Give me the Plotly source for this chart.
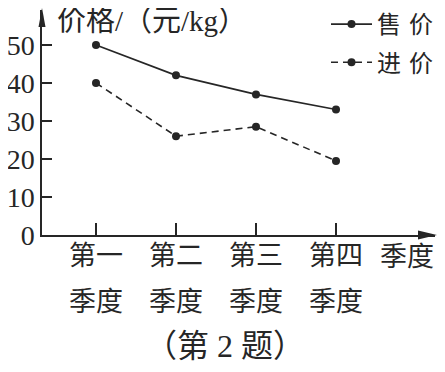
import plotly.graph_objects as go

quarters = [1, 2, 3, 4]
quarter_labels = ["第一", "第二", "第三", "第四"]
quarter_suffix = ["季度", "季度", "季度", "季度"]
sale_price = [50, 42, 37, 33]
cost_price = [40, 26, 28.5, 19.5]
y_ticks = [0, 10, 20, 30, 40, 50]

INK = "#262626"
CJK = "Noto Sans CJK SC"
SERIF = "Liberation Serif"

fig = go.Figure()
fig.add_trace(go.Scatter(
    x=quarters, y=sale_price, name="售\u2004价", mode="lines+markers",
    legendgroup="sale",
    line=dict(color=INK, width=1.6),
    marker=dict(color=INK, size=8),
))
fig.add_trace(go.Scatter(
    x=quarters, y=cost_price, name="进\u2004价", mode="lines+markers",
    legendgroup="cost",
    line=dict(color=INK, width=1.6, dash="7px,5px"),
    marker=dict(color=INK, size=8),
))

# the page body adds an 8px margin, so the figure is 8px smaller
W, H = 437, 364
L, R, T, B = 34, 10, 2, 137
pw, ph = W - L - R, H - T - B


def px(x):  # page x -> paper
    return (x - 42) / pw


def py(y):  # page y -> paper
    return (235 - y) / ph


annotations = []
for q, s in zip(quarters, quarter_suffix):
    annotations.append(dict(x=q, y=0, xref="x", yref="y", text=s, showarrow=False,
                            xanchor="center", yanchor="middle",
                            yshift=-64, font=dict(family=CJK, size=27, color=INK)))
annotations.append(dict(x=px(407), y=py(255), xref="paper", yref="paper", text="季度",
                        xanchor="center", yanchor="middle",
                        showarrow=False, font=dict(family=CJK, size=27, color=INK)))
annotations.append(dict(x=px(55), y=py(21), xref="paper", yref="paper",
                        xanchor="left", yanchor="middle",
                        text="价格/（元/kg）", showarrow=False,
                        font=dict(family=SERIF + ", " + CJK, size=29, color=INK)))
annotations.append(dict(x=px(225), y=py(346), xref="paper", yref="paper",
                        xanchor="center", yanchor="middle",
                        text="（第 2 题）", showarrow=False,
                        font=dict(family=SERIF + ", " + CJK, size=32, color=INK)))

shapes = [
    dict(type="path", xref="paper", yref="paper", fillcolor=INK, line=dict(width=0),
         path=f"M {px(437)} {py(235)} L {px(418)} {py(230.5)} L {px(418)} {py(239.5)} Z"),
    dict(type="path", xref="paper", yref="paper", fillcolor=INK, line=dict(width=0),
         path=f"M {px(42)} {py(8)} L {px(38.5)} {py(27)} L {px(45.5)} {py(27)} Z"),
]

fig.update_layout(
    width=W, height=H,
    margin=dict(l=L, r=R, t=T, b=B, pad=0, autoexpand=False),
    paper_bgcolor="white", plot_bgcolor="white",
    showlegend=True,
    legend=dict(x=px(326), y=py(2), xanchor="left", yanchor="top",
                font=dict(family=CJK, size=24, color=INK), bgcolor="rgba(0,0,0,0)",
                tracegroupgap=4, itemwidth=41),
    annotations=annotations,
    shapes=shapes,
    xaxis=dict(range=[0.325, 5.2375], tickvals=quarters, ticktext=quarter_labels,
               ticks="inside", ticklen=12, tickwidth=1.5, tickcolor=INK, automargin=False,
               ticklabelstandoff=-4,
               showline=True, linecolor=INK, linewidth=1.5, showgrid=False, zeroline=False,
               tickfont=dict(family=CJK, size=27, color=INK)),
    yaxis=dict(range=[0, 59.2], tickvals=y_ticks, ticktext=[str(v) for v in y_ticks],
               ticks="inside", ticklen=10, tickwidth=1.5, tickcolor=INK, automargin=False,
               showline=True, linecolor=INK, linewidth=1.5, showgrid=False, zeroline=False,
               tickfont=dict(family=SERIF, size=28, color=INK)),
)

fig.write_html("out.html")
